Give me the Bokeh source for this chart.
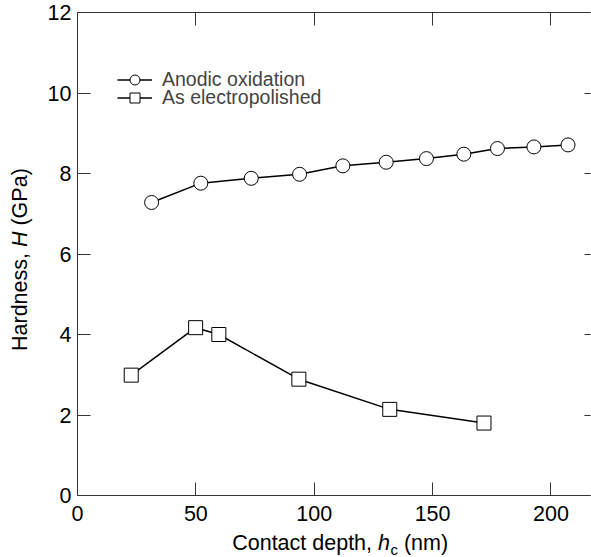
import math
from bokeh.plotting import figure
from bokeh.models import (Range1d, LinearAxis, FixedTicker, Legend, LegendItem,
                          Label, CustomJSTickFormatter)
from bokeh.embed import file_html
from bokeh.resources import INLINE

# ---- data ----
anodic_depth = [31.3, 52.1, 73.4, 93.8, 112.1, 130.4, 147.4, 163.2, 177.4, 192.8, 207.2]
anodic_hardness = [7.28, 7.76, 7.88, 7.98, 8.19, 8.28, 8.37, 8.48, 8.62, 8.66, 8.71]
electro_depth = [22.7, 49.9, 59.7, 93.5, 131.9, 171.7]
electro_hardness = [2.99, 4.17, 4.00, 2.89, 2.14, 1.80]
x_ticks = [0, 50, 100, 150, 200]
y_ticks = [0, 2, 4, 6, 8, 10, 12]
series_names = ["Anodic oxidation", "As electropolished"]

FONT = "Liberation Sans"
AX = "#333333"
XMAX, YMAX = 216.7, 12
W_PX, H_PX = 591, 557
X0_PX, X1_PX = 77, 590      # where x=0 and x=XMAX sit on the canvas
Y0_PX, Y1_PX = 495, 12      # where y=0 and y=YMAX sit on the canvas
kx = (X1_PX - X0_PX) / XMAX
ky = (Y0_PX - Y1_PX) / YMAX

p = figure(width=W_PX, height=H_PX, output_backend="svg", toolbar_location=None,
           x_range=Range1d(-X0_PX / kx, XMAX + (W_PX - X1_PX) / kx),
           y_range=Range1d(-(H_PX - Y0_PX) / ky, YMAX + Y1_PX / ky),
           min_border_left=0, min_border_right=0, min_border_top=0,
           min_border_bottom=0, outline_line_color=None,
           background_fill_color="white", border_fill_color="white")
p.grid.visible = False

def style_axis(ax, ticks, tick_in, loc, bounds, labels=True, line=True):
    ax.ticker = FixedTicker(ticks=ticks)
    ax.fixed_location = loc
    ax.bounds = bounds
    ax.major_tick_in = tick_in
    ax.major_tick_out = 0
    ax.minor_tick_line_color = None
    ax.major_tick_line_color = AX
    ax.major_tick_line_width = 1
    ax.axis_line_color = AX if line else None
    ax.axis_line_width = 1
    ax.axis_label = None
    ax.major_label_text_font = FONT
    ax.major_label_text_font_size = "21.5px"
    ax.major_label_text_color = "black"
    if not labels:
        ax.formatter = CustomJSTickFormatter(code="return ''")
        ax.major_label_standoff = 0

style_axis(p.xaxis[0], x_ticks, 13, 0, (0, XMAX))
p.xaxis[0].major_label_standoff = 10
style_axis(p.yaxis[0], y_ticks, 13, 0, (0, YMAX))
p.yaxis[0].major_label_standoff = 6

top_ax = LinearAxis()
style_axis(top_ax, x_ticks, 13, YMAX, (0, XMAX), labels=False)
p.add_layout(top_ax, "above")
right_ax = LinearAxis()
style_axis(right_ax, y_ticks, 6, XMAX, (0, YMAX), labels=False, line=False)
p.add_layout(right_ax, "right")

# ---- series ----
l1 = p.line(anodic_depth, anodic_hardness, line_color="black", line_width=1.5)
s1 = p.scatter(anodic_depth, anodic_hardness, marker="circle", size=14,
               fill_color="white", line_color="black", line_width=1)
l2 = p.line(electro_depth, electro_hardness, line_color="black", line_width=1.5)
s2 = p.scatter(electro_depth, electro_hardness, marker="square", size=14,
               fill_color="white", line_color="black", line_width=1)

for name, rs, row_center in [(series_names[0], [l1, s1], 79), (series_names[1], [l2, s2], 97)]:
    lg = Legend(items=[LegendItem(label=name, renderers=rs)],
                location=(117, H_PX - (row_center + 12.5)),
                glyph_width=35, glyph_height=25, label_height=25, label_standoff=10,
                padding=0, margin=0, border_line_color=None, background_fill_alpha=0,
                label_text_font=FONT, label_text_font_size="19.5px")
    p.add_layout(lg)

# ---- axis titles composed of pieces (italic symbol, subscript) ----
W = {'C': 722, 'o': 556, 'n': 556, 't': 278, 'a': 556, 'c': 500, ' ': 278, 'd': 556,
     'e': 556, 'p': 556, 'h': 556, ',': 278, '(': 333, 'm': 833, ')': 333, 'H': 722,
     'r': 333, 's': 500, 'G': 778, 'P': 667}

def tw(s, fs):
    return sum(W[ch] for ch in s) * fs / 1000.0

MID = 0.3465  # (ascent - descent) / 2 in em, baseline -> middle

def lab(text, px, py_base, size, style="normal", angle=0.0):
    if angle == 0.0:
        x, y = px, py_base - MID * size
    else:
        x, y = px - MID * size, py_base
    p.add_layout(Label(x=x, y=y, x_units="canvas", y_units="canvas", text=text,
                       text_font=FONT, text_font_size=f"{size}px", text_font_style=style,
                       text_color="black", text_align="left", text_baseline="middle",
                       angle=angle))

FS, FSUB = 21.5, 15
x0, yb = 231.7, 550
lab("Contact depth,", x0, yb, FS)
xh = x0 + tw("Contact depth, ", FS)
lab("h", xh, yb, FS, "italic")
xc = xh + tw("h", FS) + 0.5
lab("c", xc, yb + 4, FSUB)
lab("(nm)", xc + tw("c", FSUB) + tw(" ", FS), yb, FS)

yx, y0 = 27, 350.5
lab("Hardness,", yx, y0, FS, angle=math.pi / 2)
yH = y0 - tw("Hardness, ", FS)
lab("H", yx, yH, FS, "italic", angle=math.pi / 2)
lab("(GPa)", yx, yH - tw("H", FS) - tw(" ", FS), FS, angle=math.pi / 2)

open("out.html", "w").write(file_html(p, INLINE))
